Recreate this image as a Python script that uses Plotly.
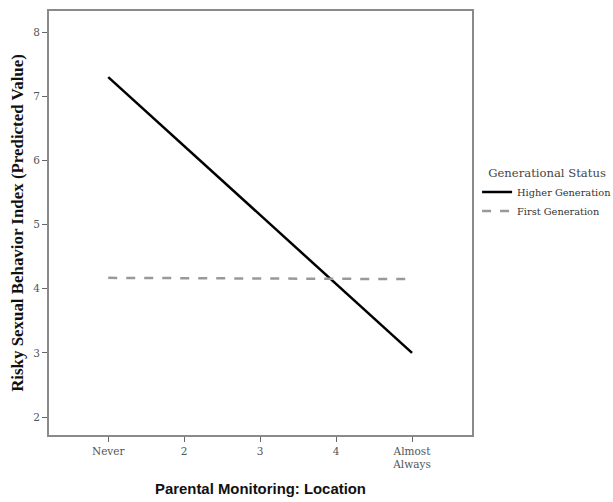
import plotly.graph_objects as go

x_vals = [1, 5]
tick_vals = [1, 2, 3, 4, 5]
tick_text = ["Never", "2", "3", "4", "Almost<br>Always"]
y_ticks = [2, 3, 4, 5, 6, 7, 8]
higher_gen = [7.3, 3.0]
first_gen = [4.17, 4.15]

fig = go.Figure()
fig.add_trace(go.Scatter(x=x_vals, y=higher_gen, mode="lines", name="Higher Generation",
                         line=dict(color="black", width=2.5)))
fig.add_trace(go.Scatter(x=x_vals, y=first_gen, mode="lines", name="First Generation",
                         line=dict(color="#999999", width=2.5, dash="dash")))

axis_common = dict(showline=True, linecolor="#8a8a8a", linewidth=2, mirror=True,
                   ticks="outside", ticklen=5, tickcolor="#666666", showgrid=False,
                   zeroline=False, automargin=False,
                   tickfont=dict(family="DejaVu Serif", size=10.5, color="#555555"))

fig.update_layout(
    width=613, height=502,
    margin=dict(l=49, r=141, t=11, b=67, autoexpand=False),
    plot_bgcolor="white", paper_bgcolor="white",
    xaxis=dict(range=[0.22, 5.79], tickvals=tick_vals, ticktext=tick_text,
               title=dict(text="<b>Parental Monitoring: Location</b>",
                          font=dict(family="Liberation Sans", size=14.9, color="#111111"), standoff=14),
               **axis_common),
    yaxis=dict(range=[1.72, 8.33], tickvals=y_ticks,
               title=dict(text="<b>Risky Sexual Behavior Index (Predicted Value)</b>",
                          font=dict(family="Liberation Serif", size=16.9, color="#111111"), standoff=5),
               **axis_common),
    legend=dict(x=1.012, y=0.643, xanchor="left", yanchor="top",
                title=dict(text="Generational Status", side="top center",
                           font=dict(family="DejaVu Serif", size=11.6, color="#444444")),
                font=dict(family="DejaVu Serif", size=9.8, color="#333333"),
                itemwidth=30, tracegroupgap=0, bgcolor="rgba(0,0,0,0)"),
)

fig.write_html("out.html", config={"displayModeBar": False},
               post_script="document.body.style.margin='0';")
